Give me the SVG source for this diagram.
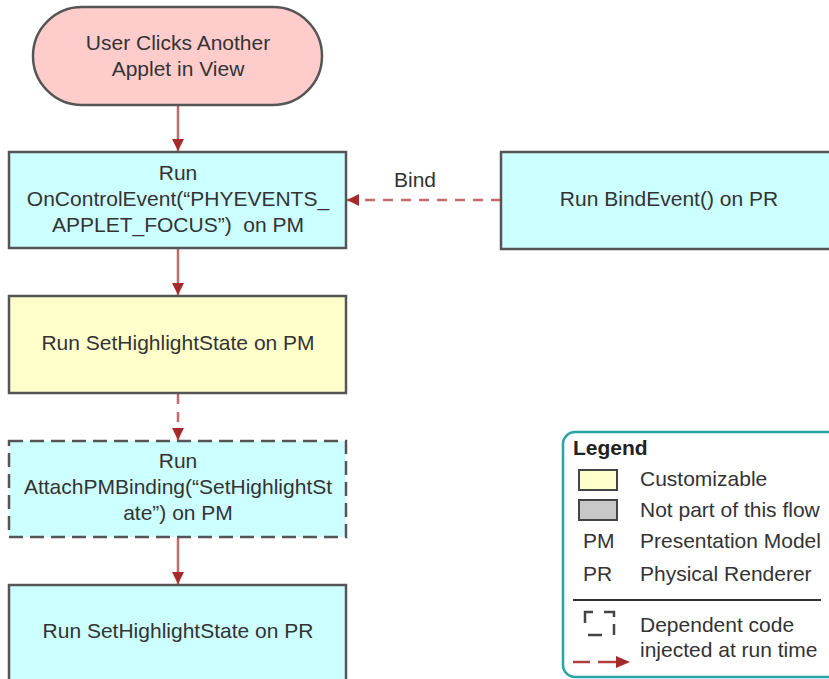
<svg xmlns="http://www.w3.org/2000/svg" width="829" height="679" viewBox="0 0 829 679">
<defs>
<style>
.t{font-family:"Liberation Sans",Arial,sans-serif;font-size:21px;fill:#333;}
.c{text-anchor:middle;}
.box{stroke:#555;stroke-width:2.5;}
.cy{fill:#ccffff;}
.ln{stroke:#c46a6a;stroke-width:2.5;fill:none;}
.dash{stroke-dasharray:10 8;}
</style>
<marker id="ah" markerWidth="13" markerHeight="12" refX="12" refY="6" orient="auto" markerUnits="userSpaceOnUse">
<path d="M0,0 L12,6 L0,12 Z" fill="#a52a2a"/>
</marker>
</defs>
<rect width="829" height="679" fill="#fff"/>

<g id="connectors">
<line class="ln" x1="178" y1="106" x2="178" y2="151" marker-end="url(#ah)"/>
<line class="ln" x1="178" y1="249" x2="178" y2="295" marker-end="url(#ah)"/>
<line class="ln dash" x1="178" y1="394" x2="178" y2="440" marker-end="url(#ah)"/>
<line class="ln" x1="178" y1="538" x2="178" y2="584" marker-end="url(#ah)"/>
<line class="ln dash" x1="501" y1="200" x2="347" y2="200" marker-end="url(#ah)"/>
<text class="t c" x="415" y="187">Bind</text>
</g>

<g id="start">
<rect x="33" y="7" width="289" height="98" rx="49" ry="49" fill="#ffcccc" class="box"/>
<text class="t c" x="178" y="50">User Clicks Another</text>
<text class="t c" x="178" y="76">Applet in View</text>
</g>

<g id="onControlEvent">
<rect x="9" y="152" width="337" height="96" class="box cy"/>
<text class="t c" x="178" y="180">Run</text>
<text class="t c" x="178" y="206">OnControlEvent(“PHYEVENTS_</text>
<text class="t c" x="178" y="232">APPLET_FOCUS”)&#160; on PM</text>
</g>

<g id="bindEvent">
<rect x="501" y="152" width="337" height="97" class="box cy"/>
<text class="t c" x="669" y="206">Run BindEvent() on PR</text>
</g>

<g id="setHighlightPM">
<rect x="9" y="296" width="337" height="97" fill="#ffffcc" class="box"/>
<text class="t c" x="178" y="350">Run SetHighlightState on PM</text>
</g>

<g id="attachPMBinding">
<rect x="9" y="441" width="337" height="96" class="cy" stroke="#555" stroke-width="2.5" stroke-dasharray="14 7"/>
<text class="t c" x="178" y="468">Run</text>
<text class="t c" x="178" y="494">AttachPMBinding(“SetHighlightSt</text>
<text class="t c" x="178" y="520">ate”) on PM</text>
</g>

<g id="setHighlightPR">
<rect x="9" y="585" width="337" height="97" class="box cy"/>
<text class="t c" x="178" y="638">Run SetHighlightState on PR</text>
</g>

<g id="legend">
<rect x="563" y="432" width="280" height="245" rx="12" ry="12" fill="#fff" stroke="#2aa5a5" stroke-width="2.5"/>
<text class="t" x="573" y="455" style="font-weight:bold;fill:#222">Legend</text>
<rect x="579" y="470" width="38" height="20" fill="#ffffcc" stroke="#444" stroke-width="2"/>
<text class="t" x="640" y="486">Customizable</text>
<rect x="579" y="500" width="38" height="20" fill="#c8c8c8" stroke="#444" stroke-width="2"/>
<text class="t" x="640" y="517">Not part of this flow</text>
<text class="t" x="583" y="548">PM</text>
<text class="t" x="640" y="548">Presentation Model</text>
<text class="t" x="583" y="581">PR</text>
<text class="t" x="640" y="581">Physical Renderer</text>
<line x1="573" y1="600" x2="821" y2="600" stroke="#333" stroke-width="2"/>
<path d="M585,623 V612 H593 M604,612 H614 V617 M614,624 V635 M602,635 H588" fill="none" stroke="#444" stroke-width="2.5"/>
<text class="t" x="640" y="632">Dependent code</text>
<text class="t" x="640" y="657">injected at run time</text>
<path d="M573,662 H590 M598,662 H616" stroke="#b04040" stroke-width="2.5" fill="none"/>
<path d="M616,656 L630,662 L616,668 Z" fill="#a52a2a"/>
</g>
</svg>
